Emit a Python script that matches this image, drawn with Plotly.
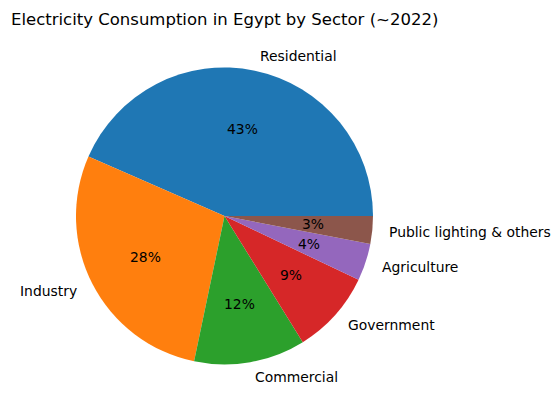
import math
import plotly.graph_objects as go

# Electricity consumption shares by sector (~2022), percent
sectors = ["Residential", "Industry", "Commercial", "Government",
           "Agriculture", "Public lighting & others"]
shares = [43, 28, 12, 9, 4, 3]
colors = ["#1f77b4", "#ff7f0e", "#2ca02c", "#d62728", "#9467bd", "#8c564b"]

W, H = 558, 411
cx, cy, r = 224.5, 216, 148.5  # pie centre / radius in pixels
font = "DejaVu Sans"
total = sum(shares)

# plotly's counterclockwise pies end the first slice at `rotation`,
# so shift it back to start the first slice at 3 o'clock like matplotlib
fig = go.Figure(go.Pie(
    labels=sectors,
    values=shares,
    marker=dict(colors=colors, line=dict(width=0)),
    sort=False,
    direction="counterclockwise",
    rotation=90 - shares[0] / total * 360,
    textinfo="none",
    hoverinfo="label+percent",
    showlegend=False,
    domain=dict(x=[(cx - r) / W, (cx + r) / W],
                y=[1 - (cy + r) / H, 1 - (cy - r) / H]),
))

# labels outside at 1.1r, percentages inside at 0.6r (matplotlib style)
annotations = []
start = 0.0
for name, val in zip(sectors, shares):
    span = val / total * 360
    mid = math.radians(start + span / 2)
    start += span
    lx = cx + 1.1 * r * math.cos(mid)
    ly = cy - 1.1 * r * math.sin(mid)
    annotations.append(dict(
        x=lx / W, y=1 - ly / H, xref="paper", yref="paper",
        text=name, showarrow=False,
        xanchor="left" if math.cos(mid) > 0 else "right", yanchor="middle",
        font=dict(family=font, size=13.9, color="black"),
    ))
    px = cx + 0.6 * r * math.cos(mid)
    py = cy - 0.6 * r * math.sin(mid)
    annotations.append(dict(
        x=px / W, y=1 - py / H, xref="paper", yref="paper",
        text=f"{val / total * 100:.0f}%", showarrow=False,
        xanchor="center", yanchor="middle",
        font=dict(family=font, size=13.9, color="black"),
    ))

# title
annotations.append(dict(
    x=cx / W, y=1 - 19 / H, xref="paper", yref="paper",
    text="Electricity Consumption in Egypt by Sector (~2022)",
    showarrow=False, xanchor="center", yanchor="middle",
    font=dict(family=font, size=16.5, color="black"),
))

fig.update_layout(
    width=W, height=H,
    margin=dict(l=0, r=0, t=0, b=0),
    paper_bgcolor="white",
    plot_bgcolor="white",
    annotations=annotations,
)

# drop the browser's default body margin so the figure fills the window
fig.write_html("out.html", config={"displayModeBar": False},
               post_script="document.body.style.margin = '0';")
